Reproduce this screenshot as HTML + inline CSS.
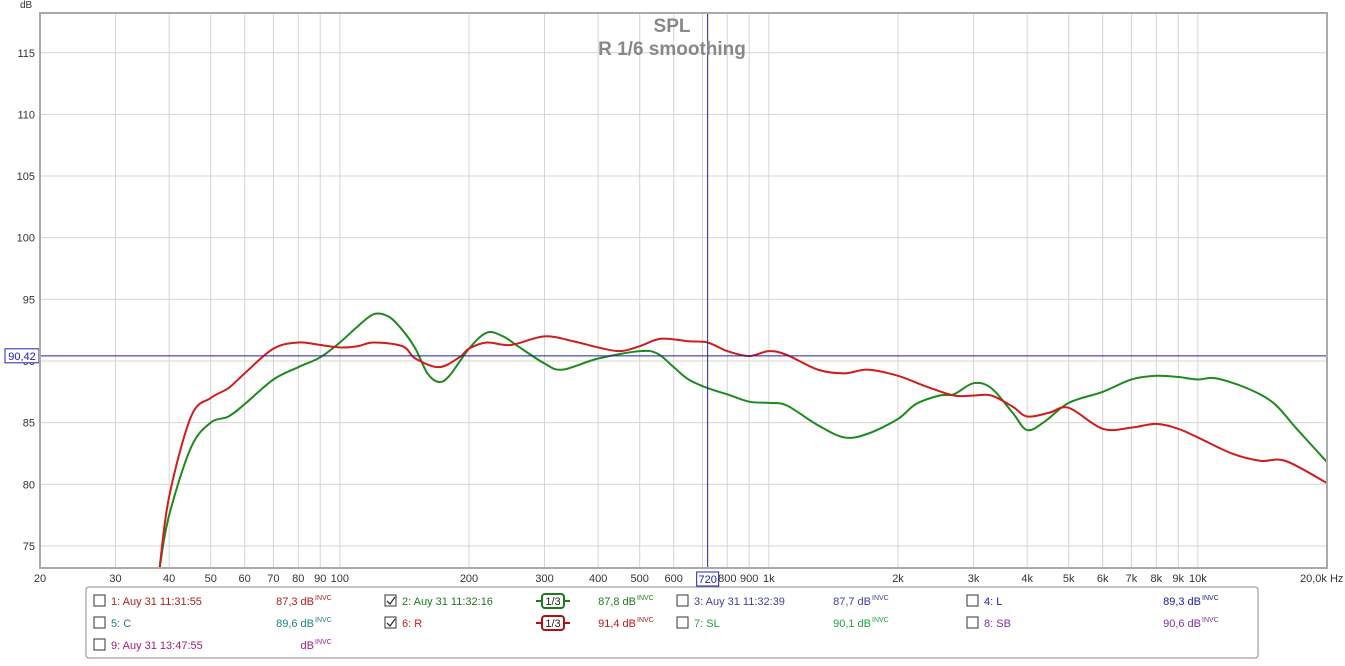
<!DOCTYPE html>
<html><head><meta charset="utf-8"><style>
body{margin:0;background:#fff;font-family:"Liberation Sans",Arial,sans-serif;}
svg text{font-family:"Liberation Sans",Arial,sans-serif;}
</style></head><body>
<svg id="chart" width="1345" height="661" xmlns="http://www.w3.org/2000/svg">
<rect width="1345" height="661" fill="#fff"/>
<g id="grid"></g>
<g id="curves"></g>
<rect x="40" y="13" width="1287" height="555" fill="none" stroke="#aaa" stroke-width="2"/>
<text x="20" y="8" font-size="10" fill="#333">dB</text>
<text x="672" y="32" font-size="19" font-weight="bold" fill="#888" text-anchor="middle">SPL</text>
<text x="672" y="55" font-size="19" font-weight="bold" fill="#888" text-anchor="middle">R 1/6 smoothing</text>
<g id="legend"></g>
</svg>
<script>
const yTicks=[75,80,85,90,95,100,105,110,115];
const xTickLabels=[[20,"20"],[30,"30"],[40,"40"],[50,"50"],[60,"60"],[70,"70"],[80,"80"],[90,"90"],[100,"100"],[200,"200"],[300,"300"],[400,"400"],[500,"500"],[600,"600"],[800,"800"],[900,"900"],[1000,"1k"],[2000,"2k"],[3000,"3k"],[4000,"4k"],[5000,"5k"],[6000,"6k"],[7000,"7k"],[8000,"8k"],[9000,"9k"],[10000,"10k"],[20000,"20,0k Hz"]];
const greenFreq=[38,40,45,50,55,60,70,80,90,100,110,120,130,140,150,160,170,180,200,220,240,260,300,330,400,500,550,600,650,720,800,900,1000,1100,1300,1500,1700,2000,2200,2500,2700,3000,3300,3700,4000,4400,5000,6000,7000,8000,9000,10000,11000,13000,15000,17000,20000];
const greenDb=[73,77.5,83,85,85.5,86.5,88.5,89.5,90.3,91.5,92.8,93.8,93.6,92.5,91,89,88.3,88.8,91,92.3,92,91.2,89.8,89.3,90.2,90.8,90.6,89.5,88.5,87.8,87.3,86.7,86.6,86.4,84.8,83.8,84.1,85.3,86.5,87.2,87.3,88.2,87.8,85.8,84.4,85.1,86.6,87.5,88.5,88.8,88.7,88.5,88.6,87.8,86.6,84.5,81.8];
const redFreq=[38,40,45,50,55,60,70,80,90,100,110,120,140,150,170,190,200,220,250,300,350,400,450,500,560,650,720,800,900,1000,1100,1300,1500,1700,2000,2300,2700,3000,3300,3700,4000,4500,5000,6000,7000,8000,9000,10000,12000,14000,16000,20000];
const redDb=[73,79,85.5,87,87.8,89,91,91.5,91.3,91.1,91.2,91.5,91.2,90.2,89.5,90.3,91,91.5,91.3,92,91.6,91.1,90.8,91.2,91.8,91.6,91.5,90.8,90.4,90.8,90.5,89.3,89,89.3,88.8,88,87.2,87.2,87.2,86.3,85.5,85.8,86.2,84.5,84.6,84.9,84.5,83.8,82.5,81.9,81.9,80.1];
const cursorFreq=720, cursorDb=90.42;
const L=40,R=1327,T=13,B=568;
const X=f=>L+(Math.log10(f)-Math.log10(20))*(R-L)/3;
const Y=d=>361-(d-90)*12.33;
const NS="http://www.w3.org/2000/svg";
function mk(t,a,p){const e=document.createElementNS(NS,t);for(const k in a)e.setAttribute(k,a[k]);p.appendChild(e);return e;}
const grid=document.getElementById('grid');
for(let dec=10;dec<=10000;dec*=10)for(let m=1;m<10;m++){const f=dec*m;if(f<20||f>20000)continue;
 const l=mk('line',{x1:X(f),x2:X(f),y1:T,y2:B,stroke:'#d4d4d4','stroke-width':1},grid);
 
 }
yTicks.forEach(v=>{const l=mk('line',{x1:L,x2:R,y1:Y(v),y2:Y(v),stroke:'#d4d4d4'},grid);
 
 
 const t=mk('text',{x:35,y:Y(v)+4,'font-size':11,fill:'#333','text-anchor':'end'},grid);t.textContent=v;
 
 });
xTickLabels.forEach(([f,s])=>{const last=f===20000;const t=mk('text',{x:last?1300:X(f),y:582,'font-size':11,fill:'#333','text-anchor':last?'start':'middle'},grid);t.textContent=s;
 
 });
function path(fs,ds){const p=fs.map((f,i)=>[X(f),Math.max(T,Math.min(B,Y(ds[i])))]);let d=`M${p[0][0]},${p[0][1]}`;
 for(let i=0;i<p.length-1;i++){const p0=p[i-1]||p[i],p1=p[i],p2=p[i+1],p3=p[i+2]||p2;
  d+=` C${p1[0]+(p2[0]-p0[0])/6},${p1[1]+(p2[1]-p0[1])/6} ${p2[0]-(p3[0]-p1[0])/6},${p2[1]-(p3[1]-p1[1])/6} ${p2[0]},${p2[1]}`;}return d;}
const cv=document.getElementById('curves');
const g=mk('path',{d:path(greenFreq,greenDb),fill:'none',stroke:'#1e8a1e','stroke-width':2},cv);


const r=mk('path',{d:path(redFreq,redDb),fill:'none',stroke:'#d01c1c','stroke-width':2},cv);


const cx=mk('line',{x1:X(cursorFreq),x2:X(cursorFreq),y1:T,y2:B,stroke:'#2020a0'},cv);


const cy=mk('line',{x1:L,x2:R,y1:Y(cursorDb),y2:Y(cursorDb),stroke:'#2020a0'},cv);


const b1=mk('rect',{x:5,y:Y(cursorDb)-7,width:34,height:14,fill:'#fff',stroke:'#2020c0'},cv);


const t1=mk('text',{x:22,y:Y(cursorDb)+4,'font-size':11,fill:'#2020c0','text-anchor':'middle'},cv);t1.textContent='90,42';


const b2=mk('rect',{x:X(cursorFreq)-11,y:572,width:22,height:14,fill:'#fff',stroke:'#2020c0'},cv);


const t2=mk('text',{x:X(cursorFreq),y:583,'font-size':11,fill:'#2020c0','text-anchor':'middle'},cv);t2.textContent='720';


const lg=document.getElementById('legend');
mk('rect',{x:86,y:587,width:1172,height:71,rx:3,fill:'#fff',stroke:'#888'},lg);
const entries=[
[94,601,"1: Auy 31 11:31:55","87,3 dB","#b02020",false,null,335],
[385,601,"2: Auy 31 11:32:16","87,8 dB","#1e7a1e",true,"#1e7a1e",657],
[677,601,"3: Auy 31 11:32:39","87,7 dB","#4040a0",false,null,892],
[967,601,"4: L","89,3 dB","#2020a0",false,null,1222],
[94,623,"5: C","89,6 dB","#208080",false,null,335],
[385,623,"6: R","91,4 dB","#c01818",true,"#b01010",657],
[677,623,"7: SL","90,1 dB","#20a040",false,null,892],
[967,623,"8: SB","90,6 dB","#8030a0",false,null,1222],
[94,645,"9: Auy 31 13:47:55","dB","#a02080",false,null,335]];
entries.forEach(([x,y,name,val,c,chk,sm,vx])=>{
 const gg=mk('g',{},lg);
 
 
 mk('rect',{x:x,y:y-6,width:11,height:11,fill:'#fff',stroke:'#333'},gg);
 if(chk)mk('path',{d:`M${x+2},${y} l3,3 l5,-7`,fill:'none',stroke:'#333','stroke-width':1.3},gg);
 const t=mk('text',{x:x+17,y:y+4,'font-size':11,fill:c},gg);t.textContent=name;
 const v=mk('text',{x:vx-21,y:y+4,'font-size':11,fill:c,'text-anchor':'end'},gg);v.textContent=val;
 const s=mk('text',{x:vx-20,y:y-1,'font-size':7,fill:c},gg);s.textContent='INVC';
 if(sm){mk('line',{x1:x+151,x2:x+185,y1:y,y2:y,stroke:sm,'stroke-width':2},gg);
  mk('rect',{x:x+157,y:y-7,width:22,height:14,rx:3,fill:'#fff',stroke:sm,'stroke-width':2},gg);
  const st=mk('text',{x:x+168,y:y+4,'font-size':11,fill:'#222','text-anchor':'middle'},gg);st.textContent='1/3';}
});
</script>
</body></html>
